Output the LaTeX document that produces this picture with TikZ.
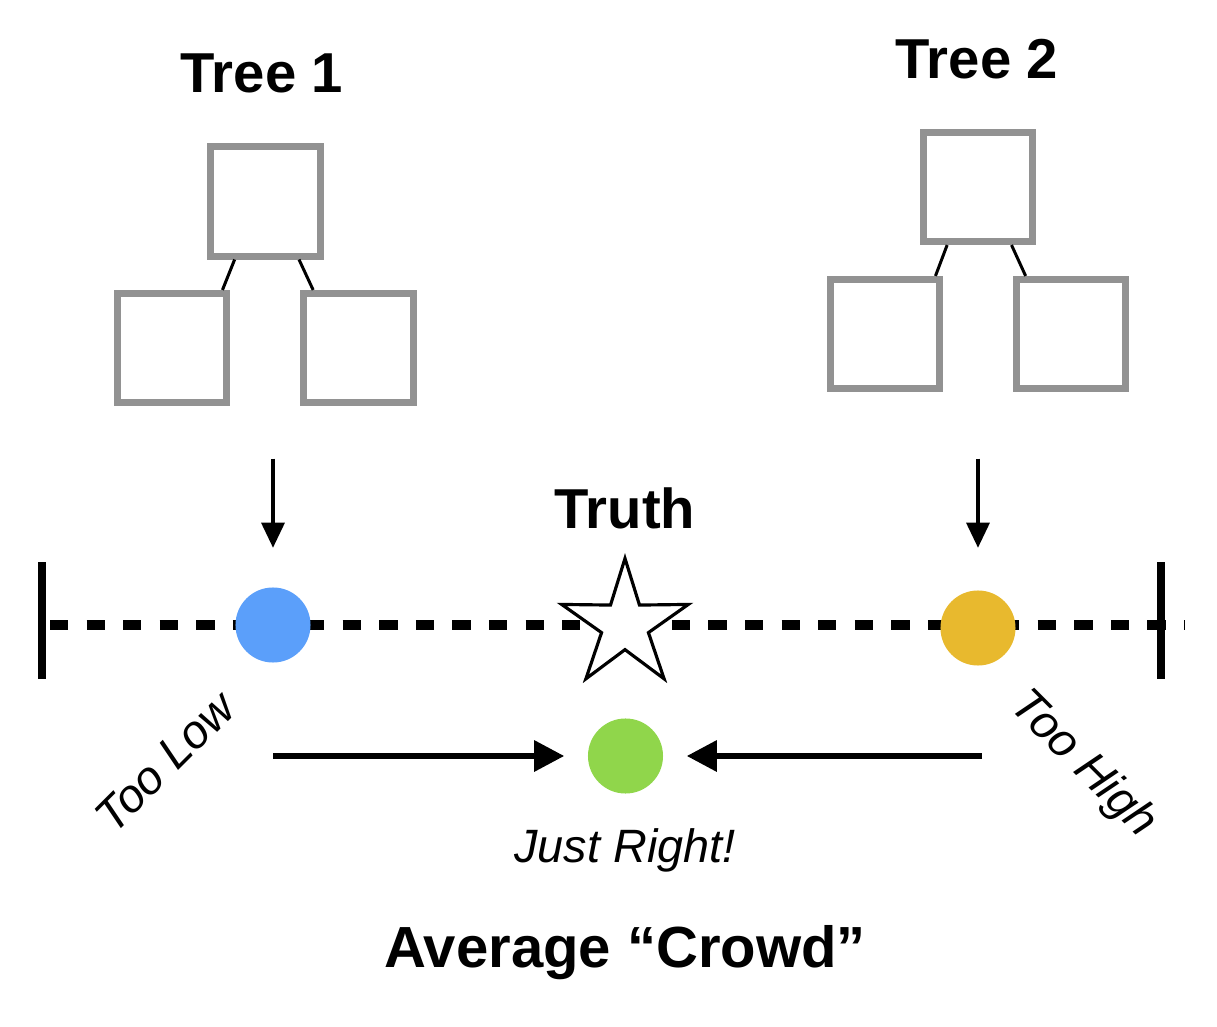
\documentclass[tikz,border=0pt]{standalone}
\usepackage{fontspec}
\setmainfont{Liberation Sans}
\usetikzlibrary{arrows.meta}
\usetikzlibrary{shapes.geometric}
\usetikzlibrary{calc}
\definecolor{boxgray}{HTML}{929292}
\definecolor{lowblue}{HTML}{5B9FFA}
\definecolor{highgold}{HTML}{E8B92E}
\definecolor{rightgreen}{HTML}{90D64B}
\tikzset{
    treebox/.style={draw=boxgray, line width=2pt, fill=white, minimum size=1.09cm, inner sep=0pt},
    branch/.style={line width=0.85pt},
    guess/.style={circle, inner sep=0pt, minimum size=0.75cm},
    fall/.style={line width=0.9pt, -{Triangle[length=2.5mm, width=2.3mm]}},
    pull/.style={line width=1.7pt, -{Triangle[length=3mm, width=3mm]}},
    endbar/.style={line width=2.3pt},
    scale line/.style={line width=2.6pt, dash pattern=on 0.1828cm off 0.1828cm},
    title/.style={font=\fontsize{16}{19}\selectfont\bfseries, inner sep=0pt},
    bigtitle/.style={font=\fontsize{16.5}{20}\selectfont\bfseries, inner sep=0pt},
    note/.style={font=\fontsize{13.3}{16}\selectfont\itshape, inner sep=0pt}
}

\begin{document}
\begin{tikzpicture}[x=0.01cm, y=-0.01cm]
        \useasboundingbox (0,0) rectangle (1217,1027);

        % first tree
        \node[treebox] (t1) at (265.5,201.5) {};
        \node[treebox] (l1) at (172,348) {};
        \node[treebox] (r1) at (358.5,348) {};
        \draw[branch] (t1.-118) -- (l1.49);
        \draw[branch] (t1.-60) -- (r1.128);
        \node[title, anchor=base] (tree1) at (262,93) {Tree 1};

        % second tree
        \node[treebox] (t2) at (978,187) {};
        \node[treebox] (l2) at (885,334) {};
        \node[treebox] (r2) at (1071,334) {};
        \draw[branch] (t2.-118) -- (l2.49);
        \draw[branch] (t2.-60) -- (r2.128);
        \node[title, anchor=base] (tree2) at (977,78) {Tree 2};

        % the scale
        \coordinate (lend) at (50,625);
        \coordinate (rend) at (1185,625);
        \draw[scale line] (lend) -- (rend);
        \draw[endbar] (42,562) -- (42,679);
        \draw[endbar] (1161,562) -- (1161,679);

        \node[guess, fill=lowblue] (b1) at (273,625) {};
        \node[guess, fill=highgold] (o1) at (978,628) {};
        \node[star, star points=5, star point ratio=2.7, minimum size=1.33cm, inner sep=0pt,
              draw, line width=0.9pt, fill=white] (star) at (625,625) {};
        \node[title, anchor=base] (truth) at (625,528) {Truth};

        \draw[fall] ([yshift=1.28cm]b1.north) -- ([yshift=0.39cm]b1.north);
        \draw[fall] ([yshift=1.31cm]o1.north) -- ([yshift=0.42cm]o1.north);

        % the average
        \node[guess, fill=rightgreen] (g1) at (625.5,756) {};
        \draw[pull] (b1 |- g1) -- ([xshift=-0.23cm]g1.west);
        \draw[pull] ([xshift=0.04cm]o1 |- g1) -- ([xshift=0.23cm]g1.east);

        \node[note, rotate=45] (low) at (165,762) {Too Low};
        \node[note, rotate=-45] (high) at (1083,765) {Too High};
        \node[note, anchor=base] (just) at (625,862) {Just Right!};
        \node[bigtitle, anchor=base] (crowd) at (625,967) {Average “Crowd”};
\end{tikzpicture}
\end{document}
